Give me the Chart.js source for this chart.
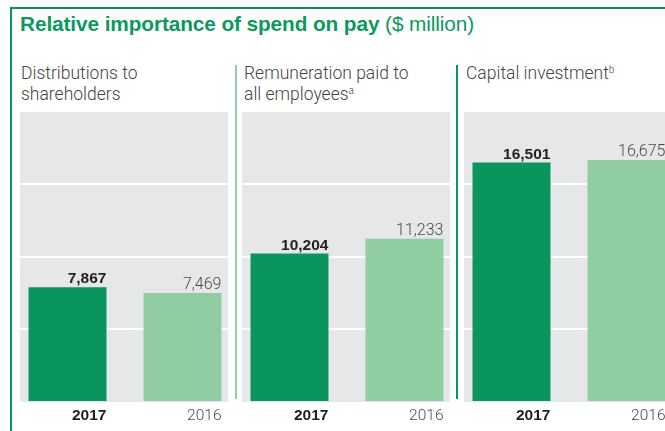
<!DOCTYPE html>
<html>
<head>
<meta charset="utf-8">
<script src="https://cdn.jsdelivr.net/npm/chart.js@4.4.1/dist/chart.umd.min.js"></script>
<style>
  html, body { margin: 0; padding: 0; background: #fff; }
  body { width: 665px; height: 431px; position: relative; overflow: hidden; }
  .frame-top { position: absolute; left: 10px; top: 7px; width: 655px; height: 2px; background: #0a955c; }
  .frame-left { position: absolute; left: 10px; top: 7px; width: 2px; height: 424px; background: #0a955c; }
  .sep { position: absolute; top: 65px; width: 2px; height: 334px; }
  .heading { position: absolute; left: 20px; top: 12px; font-family: "Liberation Sans", Arial, sans-serif;
             font-size: 20.8px; line-height: 24px; color: #0a9a5c; white-space: nowrap; letter-spacing: -0.1px; }
  .heading b { font-weight: bold; }
  .heading span { font-weight: normal; }
  .panel-title { position: absolute; top: 63px; font-family: Roboto, "Liberation Sans", sans-serif; font-weight: 300;
                 font-size: 17.5px; line-height: 20.5px; color: #444; white-space: nowrap; }
  .panel-title sup { font-size: 10px; vertical-align: 6px; line-height: 0; }
  canvas { position: absolute; top: 112px; }
</style>
</head>
<body>
<div class="frame-top"></div>
<div class="frame-left"></div>
<div class="sep" style="left:235px; background:#8fcfa3;"></div>
<div class="sep" style="left:456px; background:#0a955c;"></div>

<div class="heading"><b>Relative importance of spend on pay</b> <span>($ million)</span></div>

<div class="panel-title" style="left:21px;">Distributions to<br>shareholders</div>
<div class="panel-title" style="left:244px;">Remuneration paid to<br>all employees<sup>a</sup></div>
<div class="panel-title" style="left:466px;">Capital investment<sup>b</sup></div>

<canvas id="chartDistributions" width="230" height="319"></canvas>
<canvas id="chartRemuneration" width="230" height="319"></canvas>
<canvas id="chartCapital" width="230" height="319"></canvas>

<script>
  // Years shown in each panel and the $ million values for each
  const years = ['2017', '2016'];
  const distributions = [7867, 7469];
  const remuneration = [10204, 11233];
  const capitalInvestment = [16501, 16675];
  // Gridline values on the shared value axis
  const gridValues = [0, 5000, 10000, 15000, 20000];

  const barColors = ['#0a955c', '#90cda3'];
  // grey panel sits inside the chart area, a little more room on the right
  const grayInsetLeft = 10;
  const grayInsetRight = 12;
  const panelLefts = [20, 242, 464];

  function fmt(v) {
    return v.toLocaleString('en-US');
  }

  // Grey panel background with white gridlines, labels above and below bars
  const panelPlugin = {
    id: 'panelPlugin',
    beforeDatasetsDraw(chart) {
      const ctx = chart.ctx;
      const area = chart.chartArea;
      const y = chart.scales.y;
      const x0 = area.left + grayInsetLeft;
      const x1 = area.right - grayInsetRight;
      ctx.save();
      ctx.fillStyle = '#e6e7e8';
      ctx.fillRect(x0, area.top, x1 - x0, area.bottom - area.top + 1);
      ctx.strokeStyle = '#ffffff';
      ctx.lineWidth = 2;
      gridValues.slice(1, -1).forEach(function(v) {
        const py = Math.round(y.getPixelForValue(v));
        ctx.beginPath();
        ctx.moveTo(x0, py);
        ctx.lineTo(x1, py);
        ctx.stroke();
      });
      ctx.restore();
    },
    afterDatasetsDraw(chart) {
      const ctx = chart.ctx;
      const area = chart.chartArea;
      const meta = chart.getDatasetMeta(0);
      const values = chart.data.datasets[0].data;
      ctx.save();
      ctx.textAlign = 'right';
      meta.data.forEach(function(bar, i) {
        const right = bar.x + bar.width / 2;
        const bold = i === 0;
        ctx.fillStyle = bold ? '#231f20' : '#4a4a4a';
        ctx.font = bold ? 'bold 15.5px "Liberation Sans", Arial, sans-serif' : '300 16px Roboto, sans-serif';
        ctx.textBaseline = 'alphabetic';
        ctx.fillText(fmt(values[i]), right, bar.y - 4);
        ctx.font = bold ? 'bold 15.5px "Liberation Sans", Arial, sans-serif' : '300 15.5px Roboto, sans-serif';
        ctx.fillText(chart.data.labels[i], right, area.bottom + 19);
      });
      ctx.restore();
    }
  };

  function makePanel(id, values, left) {
    const canvas = document.getElementById(id);
    canvas.style.left = (left - grayInsetLeft) + 'px';
    return new Chart(canvas, {
      type: 'bar',
      data: {
        labels: years,
        datasets: [{
          data: values,
          backgroundColor: barColors,
          borderWidth: 0,
          barPercentage: 0.678,
          categoryPercentage: 1
        }]
      },
      options: {
        responsive: false,
        animation: false,
        layout: { padding: { top: 0, right: 0, bottom: 30, left: 0 } },
        plugins: {
          legend: { display: false },
          tooltip: { enabled: false }
        },
        scales: {
          x: { display: false, offset: true },
          y: { display: false, min: gridValues[0], max: gridValues[gridValues.length - 1] }
        }
      },
      plugins: [panelPlugin]
    });
  }

  makePanel('chartDistributions', distributions, panelLefts[0]);
  makePanel('chartRemuneration', remuneration, panelLefts[1]);
  makePanel('chartCapital', capitalInvestment, panelLefts[2]);
</script>
</body>
</html>
